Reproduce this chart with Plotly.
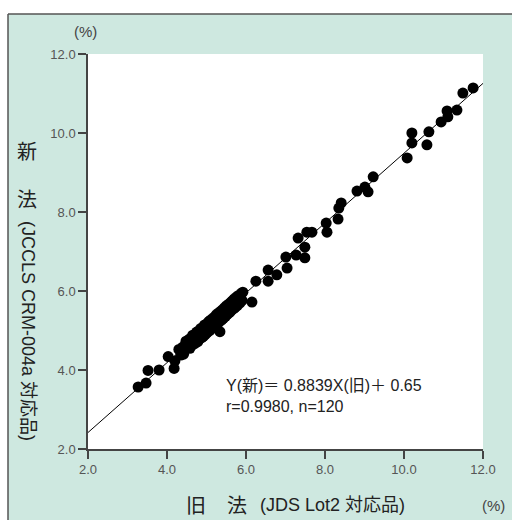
import plotly.graph_objects as go

# Paired HbA1c results (%): old method (JDS Lot2) vs new method (JCCLS CRM-004a)
old_method = [
    3.27, 3.47, 3.52, 3.80, 4.03, 4.18, 4.20, 5.34, 5.09,
    5.92, 6.15, 6.25, 6.56, 6.56, 6.78, 7.04, 7.01, 7.27, 7.49,
    7.49, 7.32, 7.54, 7.67, 8.03, 8.05, 8.33, 8.35, 8.41, 8.81,
    9.01, 9.09, 9.22, 10.08, 10.20, 10.20, 10.58, 10.63, 10.94, 11.09,
    11.11, 11.34, 11.49, 11.75,
    4.30, 4.35, 4.40, 4.42, 4.48, 4.50, 4.55, 4.58, 4.60, 4.62,
    4.65, 4.68, 4.70, 4.72, 4.75, 4.78, 4.80, 4.82, 4.85, 4.88,
    4.90, 4.92, 4.95, 4.97, 5.00, 5.02, 5.05, 5.08, 5.10, 5.12,
    5.15, 5.18, 5.20, 5.22, 5.25, 5.28, 5.30, 5.32, 5.35, 5.38,
    5.40, 5.42, 5.45, 5.48, 5.50, 5.52, 5.55, 5.58, 5.60, 5.62,
    5.65, 5.68, 5.70, 5.72, 5.75, 5.78, 5.80, 5.85, 5.88, 5.90,
    4.45, 4.63, 4.77, 4.93, 5.06, 5.17, 5.27, 5.37, 5.47, 5.57,
    5.67, 5.77, 4.52, 4.87, 5.13, 5.43, 5.73,
]
new_method = [
    3.57, 3.67, 3.99, 4.00, 4.34, 4.04, 4.23, 4.97, 5.24,
    5.97, 5.72, 6.25, 6.25, 6.53, 6.41, 6.58, 6.86, 6.91, 6.84,
    7.11, 7.34, 7.49, 7.49, 7.72, 7.49, 7.82, 8.10, 8.23, 8.53,
    8.63, 8.51, 8.89, 9.37, 10.00, 9.75, 9.70, 10.03, 10.28, 10.56,
    10.41, 10.58, 11.01, 11.14,
    4.52, 4.38, 4.58, 4.40, 4.73, 4.55, 4.77, 4.55, 4.80, 4.62,
    4.88, 4.66, 4.85, 4.68, 4.96, 4.72, 4.98, 4.78, 5.05, 4.82,
    5.06, 4.85, 5.14, 4.90, 5.16, 4.95, 5.22, 5.00, 5.26, 5.04,
    5.30, 5.08, 5.34, 5.12, 5.40, 5.17, 5.44, 5.22, 5.48, 5.26,
    5.52, 5.30, 5.57, 5.36, 5.62, 5.40, 5.66, 5.45, 5.70, 5.50,
    5.75, 5.55, 5.80, 5.58, 5.84, 5.63, 5.88, 5.70, 5.94, 5.76,
    4.60, 4.74, 4.85, 5.00, 5.13, 5.21, 5.31, 5.39, 5.49, 5.57,
    5.65, 5.74, 4.68, 4.92, 5.16, 5.46, 5.71,
]

# Regression: Y(new) = 0.8839 X(old) + 0.65
slope = 0.8839
intercept = 0.65
fit_x = [2.0, 12.0]
fit_y = [slope * v + intercept for v in fit_x]

tick_vals = [2, 4, 6, 8, 10, 12]
tick_text = ["2.0", "4.0", "6.0", "8.0", "10.0", "12.0"]

LATIN = "Liberation Sans, Noto Sans CJK JP, sans-serif"
CJK = "Noto Sans CJK JP, Liberation Sans, sans-serif"
BG = "#cee8e0"
INK = "#222222"
FRAME = "#555555"

fig = go.Figure()
fig.add_trace(go.Scatter(
    x=fit_x, y=fit_y, mode="lines",
    line=dict(color="black", width=1), hoverinfo="skip",
))
fig.add_trace(go.Scatter(
    x=old_method, y=new_method, mode="markers",
    marker=dict(color="black", size=11, line=dict(width=0)),
))

axis_common = dict(
    range=[2, 12], tickvals=tick_vals, ticktext=tick_text,
    showgrid=False, zeroline=False, showline=True,
    linecolor="#444444", linewidth=1.5,
    ticks="outside", ticklen=8, tickwidth=1.5, tickcolor="#444444",
    tickfont=dict(family=LATIN, size=13, color="#555555"),
)


# Pixel-style placements mapped into paper coordinates of the 395px plot square
def px(xp):
    return (xp - 88) / 395.0


def py(yp):
    return (449 - yp) / 395.0


def label(text, x, y, family, size, color=INK, angle=0, xanchor="center"):
    return dict(text=text, x=px(x), y=py(y), xref="paper", yref="paper",
                showarrow=False, xanchor=xanchor, yanchor="middle",
                textangle=angle, font=dict(family=family, size=size, color=color))


annots = [
    # regression equation and statistics
    label("Y(新)＝ 0.8839X(旧)＋ 0.65", 224, 385, LATIN, 16, xanchor="left"),
    label("r=0.9980, n=120", 224, 406, LATIN, 16, xanchor="left"),
    # unit labels
    label("(%)", 85, 32, LATIN, 15, "#444444"),
    label("(%)", 494, 506, LATIN, 15, "#444444"),
    # x-axis title
    label("旧", 196, 504, CJK, 20),
    label("法", 237, 504, CJK, 20),
    label("(JDS Lot2 対応品)", 332, 505, LATIN, 18),
    # y-axis title
    label("新", 27, 150, CJK, 20),
    label("法", 27, 199, CJK, 20),
    label("(JCCLS CRM-004a 対応品)", 28, 331, LATIN, 18, angle=90),
]

fig.update_layout(
    width=512, height=520,
    margin=dict(l=88, r=29, t=54, b=71),
    paper_bgcolor="white", plot_bgcolor="white",
    showlegend=False,
    xaxis=dict(**axis_common),
    yaxis=dict(**axis_common),
    shapes=[
        # green panel behind the whole chart, ending at the figure edges
        dict(type="rect", xref="paper", yref="paper",
             x0=px(8), x1=px(512), y0=py(520), y1=py(14),
             fillcolor=BG, line=dict(width=0), layer="below"),
        # panel frame: top and left edges
        dict(type="line", xref="paper", yref="paper",
             x0=px(8), x1=px(512), y0=py(14), y1=py(14),
             line=dict(color=FRAME, width=1.5), layer="below"),
        dict(type="line", xref="paper", yref="paper",
             x0=px(8), x1=px(8), y0=py(520), y1=py(14),
             line=dict(color=FRAME, width=1.5), layer="below"),
        # white plotting area
        dict(type="rect", xref="paper", yref="paper",
             x0=0, x1=1, y0=0, y1=1,
             fillcolor="white", line=dict(width=0), layer="below"),
    ],
    annotations=annots,
)

fig.write_html("out.html")
